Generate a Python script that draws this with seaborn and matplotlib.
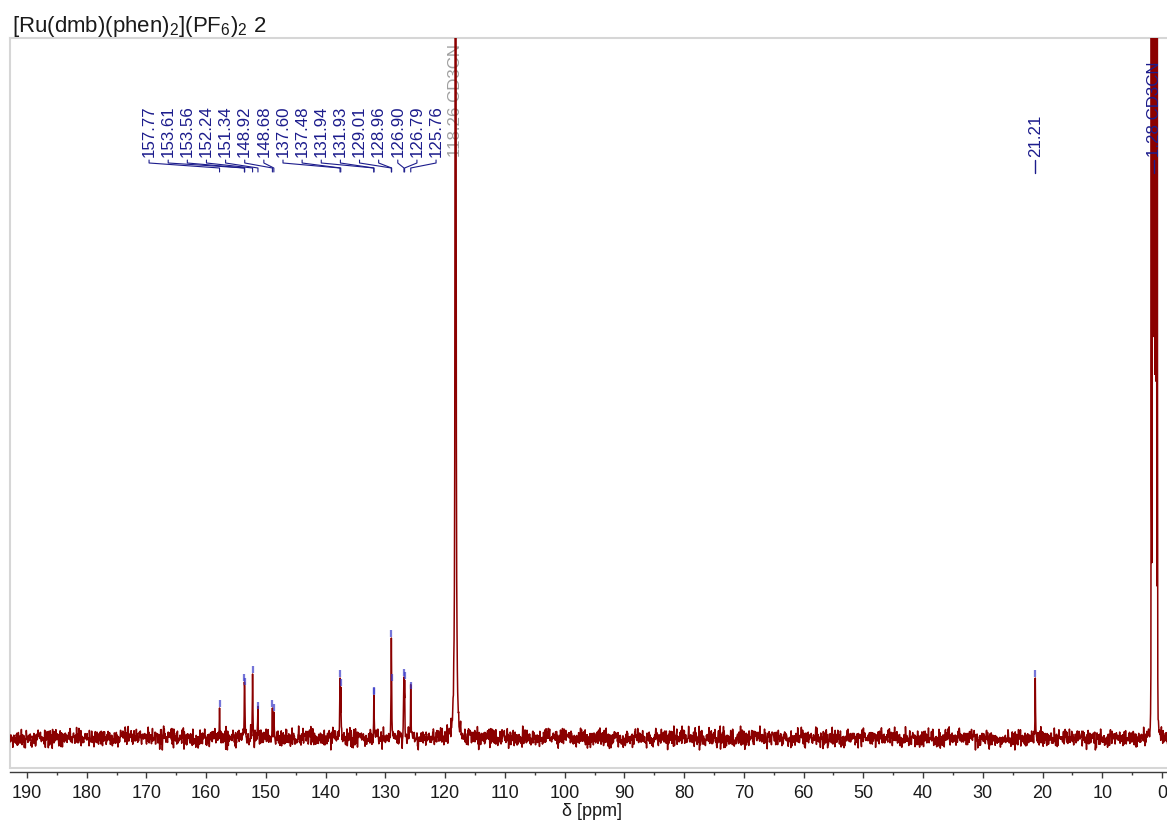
import numpy as np
import pandas as pd
import matplotlib
matplotlib.use("Agg")
import matplotlib.pyplot as plt
import seaborn as sns
from matplotlib.ticker import MultipleLocator

# ---------------- data ----------------
title = "[Ru(dmb)(phen)$_2$](PF$_6$)$_2$ 2"
x_label = "δ [ppm]"

# aromatic peaks: position (ppm) and apparent height above baseline
peak_ppm = [157.77, 153.61, 153.56, 152.24, 151.34, 148.92, 148.68,
            137.60, 137.48, 131.94, 131.93, 129.01, 128.96,
            126.90, 126.79, 125.76]
peak_height = [30, 56, 52, 64, 28, 30, 26,
               60, 51, 43, 42, 100, 56,
               61, 58, 48]
peak_labels = ["157.77", "153.61", "153.56", "152.24", "151.34", "148.92",
               "148.68", "137.60", "137.48", "131.94", "131.93", "129.01",
               "128.96", "126.90", "126.79", "125.76"]

# methyl peak
methyl_ppm = [21.21]
methyl_height = [60]
methyl_labels = ["21.21"]

# solvent (CD3CN) signals, off scale
solvent_ppm = [118.26]
solvent_height = [2500]
solvent_label = "118.26 CD3CN"
cd3cn_ppm = [0.78, 0.95, 1.11, 1.28, 1.45, 1.61, 1.78]
cd3cn_height = [1000, 3000, 6000, 7000, 6000, 3000, 1000]
cd3cn_label = "1.28 CD3CN"

# ---------------- spectrum construction ----------------
rng = np.random.default_rng(7)
grid = np.arange(-2.6, 193.4, 0.055)
noise = rng.normal(0.0, 4.4, grid.size).clip(-12, 12)

sample_ppm = np.array(peak_ppm + methyl_ppm)
sample_h = np.array(peak_height + methyl_height)
sv_ppm = np.array(solvent_ppm)
sv_h = np.array(solvent_height)
cd_ppm = np.array(cd3cn_ppm)
cd_h = np.array(cd3cn_height)

x_all = np.concatenate([grid, sample_ppm, sv_ppm, cd_ppm])
n_all = np.concatenate([noise, np.zeros(sample_ppm.size + sv_ppm.size + cd_ppm.size)])
order = np.argsort(x_all)
x_all = x_all[order]
n_all = n_all[order]


def lorentz(pos, h, w):
    return (h[:, None] * w**2 / ((x_all[None, :] - pos[:, None])**2 + w**2)).max(axis=0)


signal = np.maximum.reduce([lorentz(sample_ppm, sample_h, 0.05),
                            lorentz(sv_ppm, sv_h, 0.05),
                            lorentz(cd_ppm, cd_h, 0.02)])
y_all = signal + n_all

df = pd.DataFrame({"ppm": x_all, "intensity": y_all})

# ---------------- plotting ----------------
sns.set_theme(style="white")
plt.rcParams["font.family"] = ["Liberation Sans", "DejaVu Sans"]
plt.rcParams["mathtext.default"] = "regular"

W, H = 1167, 823
fig = plt.figure(figsize=(W / 100, H / 100), dpi=100)
ax = fig.add_axes([10 / W, 55 / H, 1165 / W, 730 / H])

navy = "#1c1c8c"
red = "#8b0000"

sns.lineplot(data=df, x="ppm", y="intensity", ax=ax, color=red, linewidth=1.1,
             estimator=None, sort=False, zorder=3)

ax.set_xlim(192.85, -2.18)
ax.set_ylim(-30, 700)

# small blue peak-pick markers
ph = np.array(peak_height + methyl_height)
pp = np.array(peak_ppm + methyl_ppm)
ax.vlines(pp, ph + 1, ph + 8, color="#3a3ac8", lw=1.6, alpha=0.7, zorder=4)

# peak labels with connectors
label_top = 581
for i, (p, lab) in enumerate(zip(peak_ppm, peak_labels)):
    lx = 169.57 - i * 3.203
    ax.text(lx, label_top, lab, rotation=90, ha="center", va="bottom",
            fontsize=12.2, color=navy, zorder=2)
    ax.plot([lx, lx, p, p], [578, 575, 570, 566], color=navy, lw=0.8, zorder=2)

for p, lab in zip(methyl_ppm, methyl_labels):
    ax.text(p, label_top, lab, rotation=90, ha="center", va="bottom",
            fontsize=12.2, color=navy, zorder=2)
    ax.plot([p, p], [578, 565], color=navy, lw=1.0, zorder=2)

ax.text(solvent_ppm[0], label_top, solvent_label, rotation=90, ha="center",
        va="bottom", fontsize=12.2, color="#a0a0a0", zorder=2)
ax.text(cd3cn_ppm[3], label_top, cd3cn_label, rotation=90, ha="center",
        va="bottom", fontsize=12.2, color=navy, zorder=5)
ax.plot([cd3cn_ppm[3]] * 2, [578, 565], color=navy, lw=1.0, zorder=5)

# frame and axis
frame_col = "#d6d6d6"
for s in ["left", "top", "right"]:
    ax.spines[s].set_color(frame_col)
    ax.spines[s].set_linewidth(1.5)
ax.axhline(-30, color=frame_col, lw=1.5, clip_on=False, zorder=1)
ax.spines["bottom"].set_position(("outward", 3))
ax.spines["bottom"].set_color("#3c3c3c")
ax.spines["bottom"].set_linewidth(1.0)

ax.set_yticks([])
ax.xaxis.set_major_locator(MultipleLocator(10))
ax.xaxis.set_minor_locator(MultipleLocator(5))
ax.tick_params(axis="x", which="major", bottom=True, direction="out", length=4.3,
               width=1, color="#3c3c3c", labelsize=13, pad=5, labelcolor="#1a1a1a")
ax.tick_params(axis="x", which="minor", bottom=True, direction="out", length=2.2,
               width=1, color="#3c3c3c")
ax.set_xlabel(x_label, fontsize=13, labelpad=1, color="#1a1a1a")
ax.set_ylabel("")

fig.text(12 / W, 1 - 32 / H, title, fontsize=16, va="baseline", ha="left",
         color="#1a1a1a")

fig.savefig("out.png", dpi=100)
